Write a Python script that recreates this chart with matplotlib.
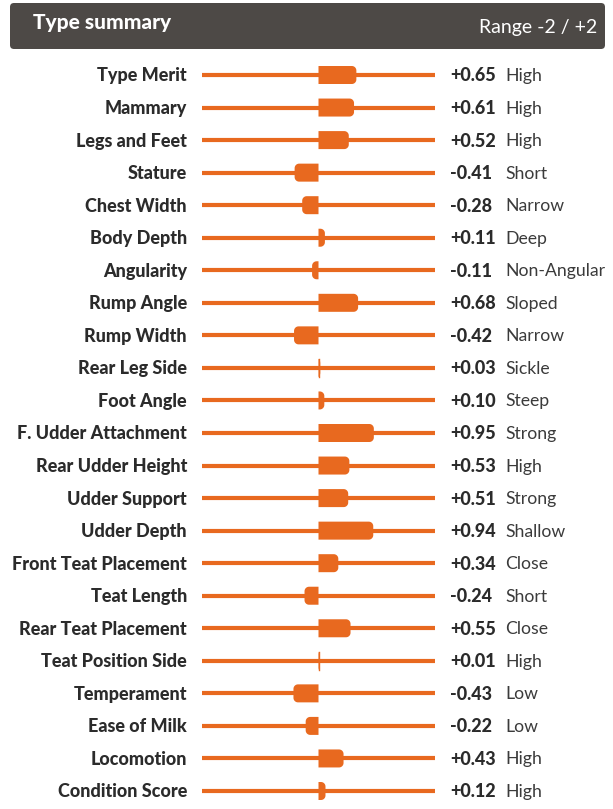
import matplotlib
matplotlib.use("Agg")
import numpy as np
import matplotlib.pyplot as plt
from matplotlib.patches import FancyBboxPatch, Polygon
from matplotlib.transforms import blended_transform_factory

plt.rcParams['font.family'] = ['Lato', 'DejaVu Sans']

traits = ['Type Merit', 'Mammary', 'Legs and Feet', 'Stature', 'Chest Width',
          'Body Depth', 'Angularity', 'Rump Angle', 'Rump Width', 'Rear Leg Side',
          'Foot Angle', 'F. Udder Attachment', 'Rear Udder Height', 'Udder Support',
          'Udder Depth', 'Front Teat Placement', 'Teat Length', 'Rear Teat Placement',
          'Teat Position Side', 'Temperament', 'Ease of Milk', 'Locomotion',
          'Condition Score']
values = [0.65, 0.61, 0.52, -0.41, -0.28, 0.11, -0.11, 0.68, -0.42, 0.03,
          0.10, 0.95, 0.53, 0.51, 0.94, 0.34, -0.24, 0.55, 0.01, -0.43,
          -0.22, 0.43, 0.12]
descriptors = ['High', 'High', 'High', 'Short', 'Narrow', 'Deep', 'Non-Angular',
               'Sloped', 'Narrow', 'Sickle', 'Steep', 'Strong', 'High', 'Strong',
               'Shallow', 'Close', 'Short', 'Close', 'High', 'Low', 'Low', 'High',
               'High']

W, H = 613, 809
orange = '#e8691f'
dark = '#2b2b2b'

fig = plt.figure(figsize=(W / 100, H / 100), dpi=100)
fig.patch.set_facecolor('white')

# header bar
hdr = FancyBboxPatch((10 / W, 1 - 49 / H), 595 / W, 46 / H,
                     boxstyle='round,pad=0,rounding_size=%f' % (4 / W),
                     mutation_aspect=W / H, transform=fig.transFigure,
                     facecolor='#4d4946', edgecolor='none')
fig.add_artist(hdr)
fig.text(33 / W, 1 - 23 / H, 'Type summary', color='white', fontsize=15,
         fontweight='black', va='center', ha='left')
fig.text(597 / W, 1 - 27 / H, 'Range -2 / +2', color='white', fontsize=14,
         va='center', ha='right')

# track axes: x from 202 to 435 px, rows from 75 to 791 px
n = len(traits)
step = (791 - 75) / (n - 1)
top = 75 - step / 2
bot = 791 + step / 2
ax = fig.add_axes([202 / W, 1 - bot / H, 233 / W, (bot - top) / H])
ax.set_xlim(-2, 2)
ax.set_ylim(n - 0.5, -0.5)
ax.axis('off')

xu = 233 / 4          # px per x unit
yu = step             # px per row
half_h = 9 / yu
rad_px = 4.5


def bar_outline(i, v):
    # square at zero, rounded corners at the far end
    s = 1 if v >= 0 else -1
    rx = min(rad_px, abs(v) * xu) / xu
    ry = rad_px / yu
    end = v - s * rx
    t = np.linspace(0, np.pi / 2, 10)
    top_arc = [(end + s * rx * np.sin(a), i - half_h + ry * (1 - np.cos(a))) for a in t]
    bot_arc = [(end + s * rx * np.cos(a), i + half_h - ry * (1 - np.sin(a))) for a in t]
    return [(0, i - half_h)] + top_arc + bot_arc + [(0, i + half_h)]


for i, v in enumerate(values):
    ax.plot([-2, 2], [i, i], color=orange, lw=3, solid_capstyle='butt', zorder=1)
    ax.add_patch(Polygon(bar_outline(i, v), closed=True, facecolor=orange,
                         edgecolor='none', zorder=2))
    if abs(v) < 0.05:
        ax.plot([0, 0], [i - half_h, i + half_h], color=orange, lw=1, zorder=2)

lt = blended_transform_factory(fig.transFigure, ax.transData)
for i, (name, v, d) in enumerate(zip(traits, values, descriptors)):
    ax.text(187 / W, i + 0.03, name, transform=lt, ha='right', va='center',
            fontsize=13, fontweight='black', color=dark)
    ax.text(450 / W, i + 0.03, '%+.2f' % v, transform=lt, ha='left', va='center',
            fontsize=13, fontweight='black', color=dark)
    ax.text(505 / W, i + 0.03, d, transform=lt, ha='left', va='center',
            fontsize=12.7, color='#3b3b3b')

fig.savefig('out.png', dpi=100)
